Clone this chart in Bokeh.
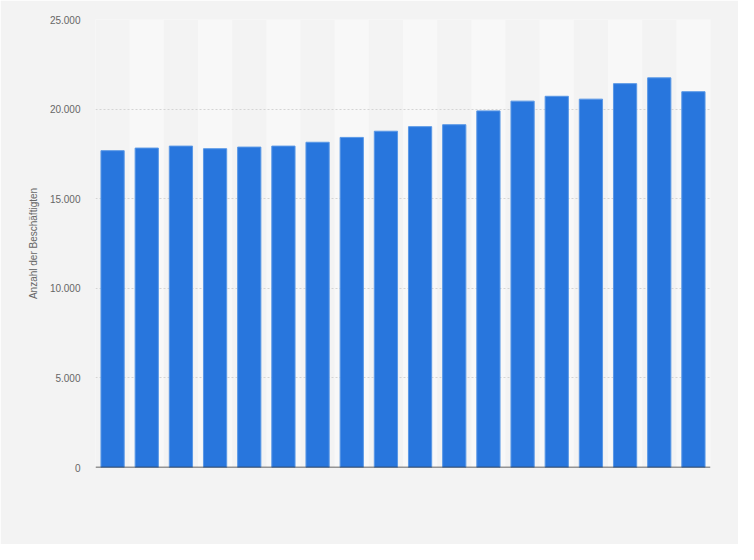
from bokeh.plotting import figure
from bokeh.models import FactorRange, Range1d, FixedTicker, Span
from bokeh.embed import file_html
from bokeh.resources import INLINE

# Data (categories are not labelled in the reference)
categories = [str(y) for y in range(2005, 2023)]
employees = [17680, 17825, 17935, 17790, 17880, 17935, 18150, 18420, 18765,
             19020, 19130, 19900, 20445, 20715, 20555, 21420, 21745, 20970]
y_ticks = [0, 5000, 10000, 15000, 20000, 25000]
y_tick_labels = ["0", "5.000", "10.000", "15.000", "20.000", "25.000"]
y_label = "Anzahl der Beschäftigten"

BG = "#f3f3f3"
STRIPE = "#f8f8f8"
BAR = "#2876dd"

p = figure(width=738, height=544, output_backend="svg", toolbar_location=None,
           x_range=FactorRange(factors=categories, range_padding=0),
           y_range=Range1d(0, y_ticks[-1]),
           min_border_left=95, min_border_right=28, min_border_top=19, min_border_bottom=77)
p.x_range.factor_padding = 0
p.border_fill_color = BG
p.background_fill_color = BG
p.outline_line_color = None

# alternating column stripes (behind the grid)
stripe_cats = categories[1::2]
stripes = p.vbar(x=stripe_cats, top=[y_ticks[-1]] * len(stripe_cats), bottom=0, width=1.0,
                 fill_color=STRIPE, line_color=None)
stripes.level = "image"

p.vbar(x=categories, top=employees, bottom=0, width=0.68,
       fill_color=BAR, line_color="#5a98e6", line_width=1)

# grid
p.xgrid.grid_line_color = None
p.ygrid.grid_line_color = "#d4d4d4"
p.ygrid.grid_line_dash = "2 2"
p.ygrid.grid_line_width = 1
p.ygrid.level = "underlay"

# x axis hidden, baseline drawn
p.xaxis.visible = False
p.add_layout(Span(location=0, dimension="width", line_color="#333333", line_width=1.5))

# y axis
p.yaxis.ticker = FixedTicker(ticks=y_ticks)
p.yaxis.major_label_overrides = {t: l for t, l in zip(y_ticks, y_tick_labels)}
p.yaxis.axis_line_color = None
p.yaxis.major_tick_line_color = None
p.yaxis.minor_tick_line_color = None
p.yaxis.major_tick_out = 0
p.yaxis.major_label_standoff = 15
p.yaxis.major_label_text_font = "Liberation Sans"
p.yaxis.major_label_text_font_size = "10px"
p.yaxis.major_label_text_color = "#666666"
p.yaxis.axis_label = y_label
p.yaxis.axis_label_text_font = "Liberation Sans"
p.yaxis.axis_label_text_font_size = "10px"
p.yaxis.axis_label_text_font_style = "normal"
p.yaxis.axis_label_text_color = "#666666"
p.yaxis.axis_label_standoff = 8

open("out.html", "w").write(file_html(p, INLINE))
